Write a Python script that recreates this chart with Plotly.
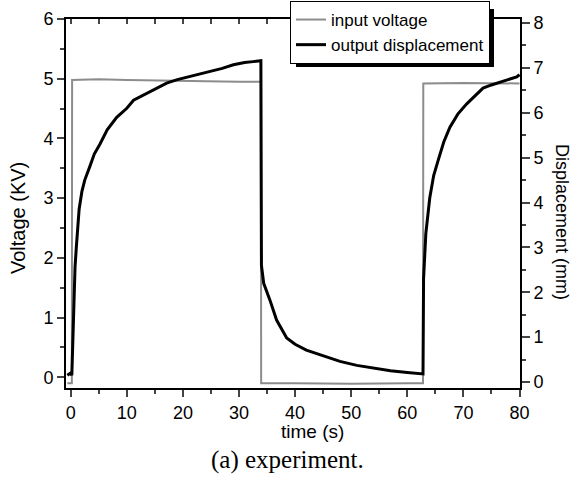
import plotly.graph_objects as go

# ---- data ----
t_volt = [-0.6, 0.2, 0.25, 5, 10, 15, 20, 25, 30, 33.9, 33.95, 40, 50, 60, 62.8, 62.85, 70, 80]
v_volt = [-0.1, -0.1, 4.98, 4.99, 4.98, 4.97, 4.97, 4.96, 4.95, 4.95, -0.1, -0.1, -0.11, -0.1, -0.1, 4.92, 4.93, 4.92]

t_disp = [-0.6, 0.0, 0.2, 0.3, 0.5, 0.77, 1.0, 1.5, 2.0, 2.5, 3.4, 4.2, 5.2, 6.5, 8.2, 10, 11.2, 12.5,
          14.1, 15.5, 17.1, 19, 21, 23, 25, 27, 29, 31, 32.5, 33.8, 33.9, 34.0, 34.4, 35.5, 36.7, 38.5,
          40, 42, 45, 48, 51, 54, 57, 60, 62.7, 62.8, 62.9, 63.3, 64, 64.7, 65.5, 66.5, 67.6, 69, 70.6,
          72, 73.5, 75, 76.5, 78, 79.5, 80]
d_disp = [0.15, 0.2, 0.15, 0.6, 1.5, 2.56, 3.0, 3.85, 4.25, 4.5, 4.8, 5.08, 5.3, 5.62, 5.9, 6.1, 6.28, 6.36,
          6.46, 6.56, 6.66, 6.74, 6.8, 6.86, 6.92, 6.99, 7.07, 7.12, 7.14, 7.16, 7.16, 2.6, 2.2, 1.83, 1.38, 0.98,
          0.84, 0.71, 0.58, 0.46, 0.37, 0.31, 0.25, 0.21, 0.18, 0.18, 2.3, 3.3, 4.1, 4.6, 4.94, 5.35, 5.68, 5.97, 6.2,
          6.38, 6.55, 6.62, 6.68, 6.74, 6.8, 6.85]

x_ticks = [0, 10, 20, 30, 40, 50, 60, 70, 80]
v_ticks = [0, 1, 2, 3, 4, 5, 6]
d_ticks = [0, 1, 2, 3, 4, 5, 6, 7, 8]

FONT = "Liberation Sans, Arial, sans-serif"
W, H = 572, 484
L, R, T, B = 66, 52, 19, 96
pw, ph = W - L - R, H - T - B

def px(x):
    return (x - L) / pw

def py(y):
    return (H - B - y) / ph

fig = go.Figure()
fig.add_trace(go.Scatter(x=t_volt, y=v_volt, mode="lines", name="input voltage",
                         line=dict(color="#8c8c8c", width=2), xaxis="x", yaxis="y"))
fig.add_trace(go.Scatter(x=t_disp, y=d_disp, mode="lines", name="output displacement",
                         line=dict(color="black", width=3), xaxis="x", yaxis="y2"))
# invisible trace to realise the top axis
fig.add_trace(go.Scatter(x=t_volt, y=v_volt, mode="lines", showlegend=False, hoverinfo="skip",
                         line=dict(color="rgba(0,0,0,0)"), xaxis="x2", yaxis="y"))

xr = [-0.84, 80.09]
fig.update_layout(
    width=W, height=H, margin=dict(l=L, r=R, t=T, b=B, autoexpand=False),
    paper_bgcolor="white", plot_bgcolor="white",
    font=dict(family=FONT, size=18, color="black"),
    showlegend=True,
    xaxis=dict(range=xr, tickvals=x_ticks, ticks="outside", ticklen=7, tickwidth=1.5,
               showline=True, linecolor="black", linewidth=2, showgrid=False, zeroline=False,
               minor=dict(dtick=5, tick0=0, ticks="outside", ticklen=4, tickwidth=1.5, showgrid=False),
               tickfont=dict(size=18)),
    xaxis2=dict(range=xr, overlaying="x", side="top", anchor="y",
                tickvals=[0, 5, 10, 15, 20, 25, 30, 35, 40, 45, 50, 55, 60, 65, 70, 75, 80],
                ticks="inside", ticklen=5, tickwidth=1.5, showticklabels=False,
                showline=True, linecolor="black", linewidth=2, showgrid=False, zeroline=False),
    yaxis=dict(range=[-0.18, 6.0], tickvals=v_ticks, ticks="outside", ticklen=7, tickwidth=1.5,
               showline=True, linecolor="black", linewidth=2, showgrid=False, zeroline=False,
               minor=dict(dtick=0.5, tick0=0, ticks="outside", ticklen=4, tickwidth=1.5, showgrid=False),
               tickfont=dict(size=18)),
    yaxis2=dict(range=[-0.134, 8.09], tickvals=d_ticks, overlaying="y", side="right", anchor="x",
                ticks="outside", ticklen=8, tickwidth=1.5,
                showline=True, linecolor="black", linewidth=2, showgrid=False, zeroline=False,
                minor=dict(dtick=0.5, tick0=0, ticks="outside", ticklen=4, tickwidth=1.5, showgrid=False),
                tickfont=dict(size=18)),
    legend=dict(x=px(290), y=py(1), xanchor="left", yanchor="top", bgcolor="white",
                bordercolor="black", borderwidth=1, font=dict(size=17, family=FONT),
                tracegroupgap=0, itemwidth=30),
)

# legend drop shadow
fig.add_shape(type="rect", xref="paper", yref="paper", x0=px(296), x1=px(494), y0=py(67), y1=py(9),
              fillcolor="black", line=dict(width=0), layer="above")

fig.add_annotation(text="Voltage (KV)", xref="paper", yref="paper", x=px(18), y=py(218),
                   xanchor="center", yanchor="middle",
                   textangle=-90, showarrow=False, font=dict(size=20, family=FONT))
fig.add_annotation(text="Displacement (mm)", xref="paper", yref="paper", x=px(562), y=py(222),
                   xanchor="center", yanchor="middle",
                   textangle=90, showarrow=False, font=dict(size=18, family=FONT))
fig.add_annotation(text="time (s)", xref="paper", yref="paper", x=px(312), y=py(431),
                   xanchor="center", yanchor="middle",
                   showarrow=False, font=dict(size=19, family=FONT))
fig.add_annotation(text="(a) experiment.", xref="paper", yref="paper", x=px(287), y=py(460),
                   xanchor="center", yanchor="middle",
                   showarrow=False, font=dict(size=25, family="Liberation Serif, Times New Roman, serif"))

fig.write_html("out.html")
